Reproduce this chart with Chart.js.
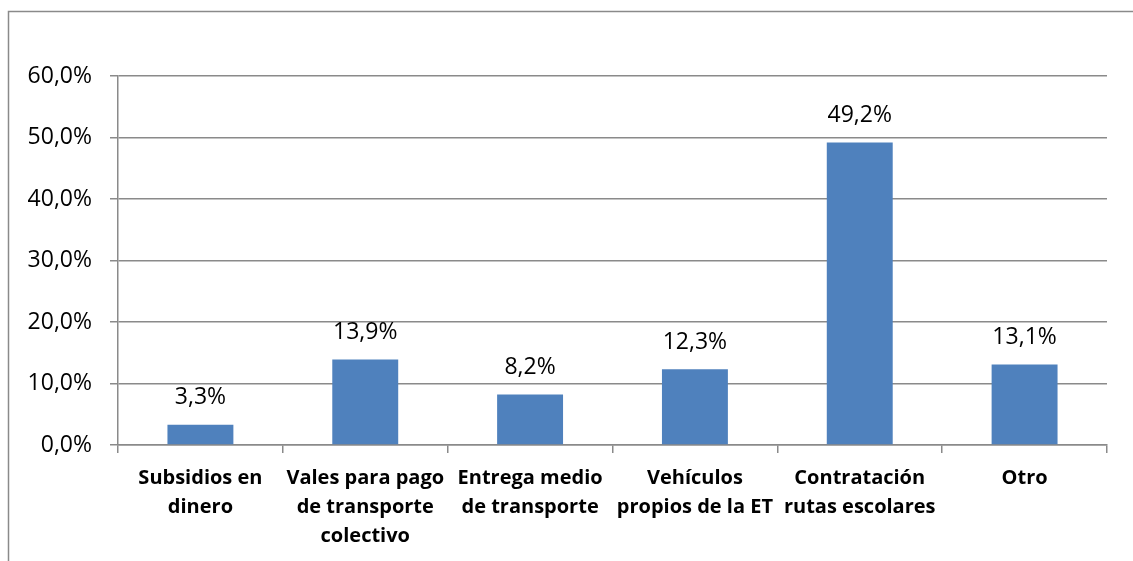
<!DOCTYPE html>
<html lang="es">
<head>
    <meta charset="UTF-8">
    <title>Medios de transporte escolar</title>
    <script src="https://cdn.jsdelivr.net/npm/chart.js@4.4.0/dist/chart.umd.min.js"></script>
    <style>
        html, body {
            margin: 0;
            padding: 0;
            background: #fff;
        }
        .wrap {
            width: 1133px;
            height: 561px;
            position: relative;
        }
    </style>
</head>
<body>
    <div class="wrap">
        <canvas id="chart"></canvas>
    </div>

    <script>
        const categories = [
            ['Subsidios en', 'dinero'],
            ['Vales para pago', 'de transporte', 'colectivo'],
            ['Entrega medio', 'de transporte'],
            ['Vehículos', 'propios de la ET'],
            ['Contratación', 'rutas escolares'],
            ['Otro']
        ];
        const values = [3.3, 13.9, 8.2, 12.3, 49.2, 13.1];
        const yTicks = [0, 10, 20, 30, 40, 50, 60];

        const gridColor = '#8a8a8a';
        const fmt = v => v.toFixed(1).replace('.', ',') + '%';

        // outer frame of the chart object (left and top edges only visible)
        const frame = {
            id: 'frame',
            beforeDraw(chart) {
                const c = chart.ctx;
                c.save();
                c.fillStyle = '#fff';
                c.fillRect(0, 0, chart.width, chart.height);
                c.strokeStyle = '#8a8a8a';
                c.lineWidth = 1.5;
                c.beginPath();
                c.moveTo(8.5, chart.height + 5);
                c.lineTo(8.5, 11.5);
                c.lineTo(chart.width + 5, 11.5);
                c.stroke();
                c.restore();
            }
        };

        // value labels above each bar
        const barLabels = {
            id: 'barLabels',
            afterDatasetsDraw(chart) {
                const c = chart.ctx;
                const meta = chart.getDatasetMeta(0);
                c.save();
                c.font = '23px "Open Sans"';
                c.fillStyle = '#000';
                c.textAlign = 'center';
                c.textBaseline = 'middle';
                meta.data.forEach((bar, i) => {
                    c.fillText(fmt(values[i]), bar.x, bar.y - 27);
                });
                c.restore();
            }
        };

        new Chart(document.getElementById('chart'), {
            type: 'bar',
            data: {
                labels: categories,
                datasets: [{
                    data: values,
                    backgroundColor: '#4f81bd',
                    borderWidth: 0,
                    barPercentage: 0.4,
                    categoryPercentage: 1
                }]
            },
            options: {
                responsive: true,
                maintainAspectRatio: false,
                animation: false,
                layout: {
                    padding: { top: 76, right: 26, left: 0, bottom: 0 }
                },
                plugins: {
                    legend: { display: false },
                    tooltip: { enabled: false }
                },
                scales: {
                    x: {
                        offset: true,
                        afterFit(axis) { axis.height = 116; },
                        grid: {
                            offset: true,
                            drawOnChartArea: false,
                            drawTicks: true,
                            tickLength: 8,
                            color: gridColor,
                            lineWidth: 1.5
                        },
                        border: { color: gridColor, width: 1.5 },
                        ticks: {
                            color: '#000',
                            padding: 11,
                            maxRotation: 0,
                            autoSkip: false,
                            font: { family: '"Open Sans"', size: 20, weight: 'bold', lineHeight: 1.45 }
                        }
                    },
                    y: {
                        min: 0,
                        max: 60,
                        afterFit(axis) { axis.width = 118; },
                        afterBuildTicks(axis) { axis.ticks = yTicks.map(v => ({ value: v })); },
                        grid: {
                            color: gridColor,
                            lineWidth: 1.5,
                            tickLength: 8
                        },
                        border: { color: gridColor, width: 1.5 },
                        ticks: {
                            color: '#000',
                            padding: 18,
                            font: { family: '"Open Sans"', size: 23 },
                            callback: v => fmt(v)
                        }
                    }
                }
            },
            plugins: [frame, barLabels]
        });
    </script>
</body>
</html>
